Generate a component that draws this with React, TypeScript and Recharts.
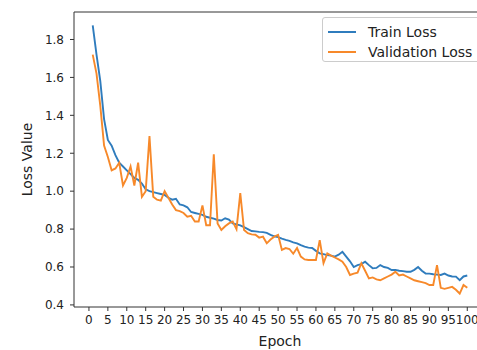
import { LineChart, Line, XAxis, YAxis, ReferenceLine, Legend } from "recharts";

// values, epochs 1..100
const epochs = Array.from({ length: 100 }, (_, i) => i + 1);

const trainLoss = [
  1.875, 1.72, 1.58, 1.38, 1.27, 1.24, 1.19, 1.15, 1.13, 1.11,
  1.09, 1.07, 1.06, 1.04, 1.01, 1.0, 0.995, 0.99, 0.985, 0.98,
  0.965, 0.955, 0.96, 0.93, 0.925, 0.915, 0.89, 0.885, 0.88, 0.875,
  0.865, 0.86, 0.855, 0.848, 0.845, 0.857, 0.85, 0.83, 0.825, 0.82,
  0.81, 0.8, 0.79, 0.788, 0.785, 0.784, 0.78, 0.77, 0.762, 0.758,
  0.75, 0.743, 0.738, 0.73, 0.725, 0.715, 0.707, 0.702, 0.7, 0.685,
  0.672, 0.668, 0.663, 0.66, 0.655, 0.665, 0.68, 0.655, 0.63, 0.6,
  0.61, 0.615, 0.628, 0.61, 0.593, 0.595, 0.61, 0.6, 0.595, 0.584,
  0.585, 0.58, 0.578, 0.575, 0.575, 0.585, 0.6, 0.58, 0.565, 0.565,
  0.562, 0.56, 0.558, 0.565, 0.555, 0.55, 0.549, 0.53, 0.55, 0.555,
];

const valLoss = [
  1.72, 1.62, 1.45, 1.24, 1.18, 1.11, 1.12, 1.15, 1.03, 1.07,
  1.13, 1.03, 1.15, 0.97, 1.0, 1.29, 0.97, 0.955, 0.95, 1.0,
  0.965, 0.93, 0.9, 0.895, 0.885, 0.865, 0.87, 0.84, 0.84, 0.925,
  0.82, 0.82, 1.195, 0.83, 0.795, 0.815, 0.83, 0.84, 0.8, 0.99,
  0.795, 0.778, 0.772, 0.77, 0.755, 0.76, 0.725, 0.745, 0.76, 0.77,
  0.69, 0.7, 0.695, 0.67, 0.7, 0.655, 0.64, 0.637, 0.637, 0.637,
  0.742, 0.62, 0.672, 0.66, 0.65, 0.64, 0.628, 0.6, 0.558, 0.565,
  0.57, 0.62, 0.58, 0.54, 0.545, 0.535, 0.53, 0.54, 0.55, 0.56,
  0.575, 0.555, 0.56, 0.55, 0.54, 0.53, 0.525, 0.52, 0.515, 0.505,
  0.505, 0.61, 0.49, 0.485, 0.49, 0.495, 0.48, 0.46, 0.505, 0.49,
];

const xTicks = [0, 5, 10, 15, 20, 25, 30, 35, 40, 45, 50, 55, 60, 65, 70, 75, 80, 85, 90, 95, 100];
const yTicks = [0.4, 0.6, 0.8, 1.0, 1.2, 1.4, 1.6, 1.8];

const X_DOMAIN: [number, number] = [-3.95, 104.95];
const Y_DOMAIN: [number, number] = [0.389, 1.945];

const data = epochs.map((e, i) => ({ epoch: e, train: trainLoss[i], val: valLoss[i] }));

const FONT = "'DejaVu Sans', sans-serif";
const SPINE = "#333";
const BLUE = "#2f7cbd";
const ORANGE = "#f7892a";

function LegendBox() {
  const items = [
    { label: "Train Loss", color: BLUE },
    { label: "Validation Loss", color: ORANGE },
  ];
  return (
    <div
      style={{
        width: 162,
        height: 45,
        boxSizing: "border-box",
        border: "1px solid #ccc",
        borderRadius: 3,
        background: "rgba(255,255,255,0.8)",
        padding: "4px 0 0 5px",
        fontFamily: FONT,
        fontSize: 14,
        color: "#222",
      }}
    >
      {items.map((it) => (
        <div key={it.label} style={{ display: "flex", alignItems: "center", height: 20, whiteSpace: "nowrap" }}>
          <span style={{ display: "inline-block", width: 28, height: 2, background: it.color, marginRight: 12 }} />
          <span>{it.label}</span>
        </div>
      ))}
    </div>
  );
}

export default function App() {
  return (
    <div style={{ position: "absolute", left: 0, top: 0, width: 477, height: 350, overflow: "hidden", background: "#fff" }}>
      <LineChart width={490} height={350} data={data} margin={{ top: 12, right: 4, bottom: 0, left: 0 }}>
        <XAxis
          dataKey="epoch"
          type="number"
          domain={X_DOMAIN}
          allowDataOverflow
          ticks={xTicks}
          interval={0}
          height={43}
          tickSize={4}
          tickMargin={4}
          stroke={SPINE}
          tick={{ fill: "#222", fontSize: 12, fontFamily: FONT }}
          label={{ value: "Epoch", position: "insideBottom", offset: 4, fill: "#222", fontSize: 14, fontFamily: FONT }}
        />
        <YAxis
          type="number"
          domain={Y_DOMAIN}
          allowDataOverflow
          ticks={yTicks}
          interval={0}
          width={74}
          tickSize={4}
          tickMargin={6}
          stroke={SPINE}
          tickFormatter={(v: number) => v.toFixed(1)}
          tick={{ fill: "#222", fontSize: 12, fontFamily: FONT }}
          label={{
            value: "Loss Value",
            angle: -90,
            position: "insideLeft",
            offset: 27,
            fill: "#222",
            fontSize: 14,
            fontFamily: FONT,
            style: { textAnchor: "middle" },
          }}
        />
        <ReferenceLine y={Y_DOMAIN[1]} stroke={SPINE} strokeWidth={1} />
        <Line dataKey="train" name="Train Loss" stroke={BLUE} strokeWidth={1.9} dot={false} isAnimationActive={false} />
        <Line dataKey="val" name="Validation Loss" stroke={ORANGE} strokeWidth={1.9} dot={false} isAnimationActive={false} />
        <Legend
          layout="vertical"
          align="center"
          verticalAlign="middle"
          content={() => <LegendBox />}
          wrapperStyle={{ left: 322, top: 17, width: 162 }}
        />
      </LineChart>
    </div>
  );
}
